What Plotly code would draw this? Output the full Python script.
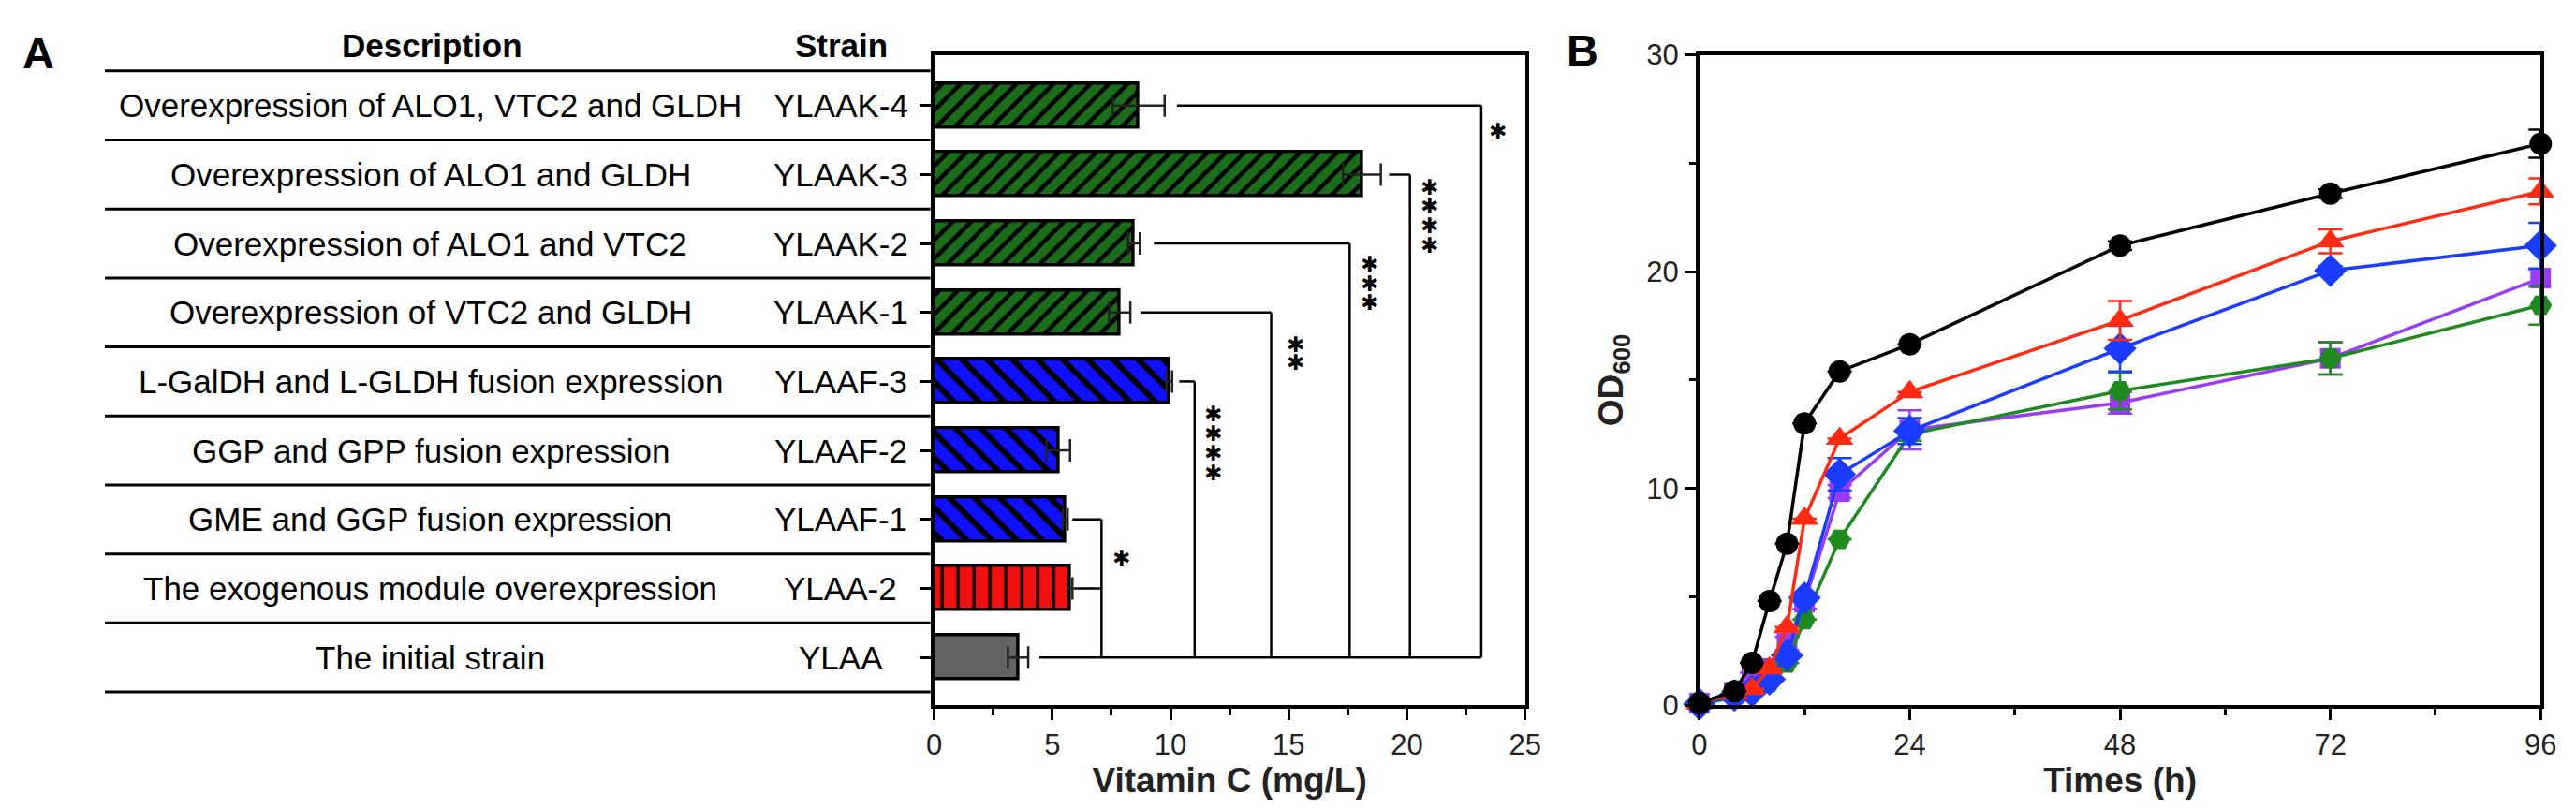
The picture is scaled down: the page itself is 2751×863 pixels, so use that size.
import plotly.graph_objects as go

# ---------------- Panel A data ----------------
descriptions = [
    "Overexpression of ALO1, VTC2 and GLDH",
    "Overexpression of ALO1 and GLDH",
    "Overexpression of ALO1 and VTC2",
    "Overexpression of VTC2 and GLDH",
    "L-GalDH and L-GLDH fusion expression",
    "GGP and GPP fusion expression",
    "GME and GGP fusion expression",
    "The exogenous module overexpression",
    "The initial strain",
]
strains = ["YLAAK-4", "YLAAK-3", "YLAAK-2", "YLAAK-1", "YLAAF-3",
           "YLAAF-2", "YLAAF-1", "YLAA-2", "YLAA"]
vitamin_c = [8.65, 18.1, 8.45, 7.85, 9.95, 5.25, 5.55, 5.75, 3.55]
vitamin_c_err = [1.1, 0.8, 0.25, 0.45, 0.12, 0.5, 0.1, 0.1, 0.43]

# ---------------- Panel B data ----------------
times = [0, 4, 6, 8, 10, 12, 16, 24, 48, 72, 96]
od_black = [0.1, 0.65, 1.95, 4.8, 7.45, 13.0, 15.4, 16.65, 21.2, 23.6, 25.9]
err_black = [0, 0, 0, 0, 0, 0, 0, 0, 0.2, 0.2, 0.65]
od_red = [0.1, 0.55, 0.75, 1.7, 3.6, 8.6, 12.3, 14.45, 17.75, 21.4, 23.7]
err_red = [0, 0, 0, 0, 0, 0, 0, 0, 0.9, 0.55, 0.6]
od_blue = [0.05, 0.45, 0.65, 1.2, 2.3, 4.95, 10.65, 12.65, 16.45, 20.05, 21.2]
err_blue = [0, 0, 0, 0, 0, 0, 0.75, 0.6, 1.05, 0.2, 1.05]
od_purple = [0.1, 0.6, 1.5, 1.7, 2.85, 4.75, 9.85, 12.7, 13.95, 16.0, 19.7]
err_purple = [0, 0, 0, 0, 0.3, 0.3, 0.3, 0.9, 0.5, 0.75, 0.4]
od_green = [0.05, 0.35, 0.6, 1.05, 1.95, 3.95, 7.65, 12.5, 14.5, 16.0, 18.45]
err_green = [0, 0, 0, 0, 0, 0, 0, 0.3, 0.85, 0.75, 0.9]

# ---------------- styles ----------------
FONT = "Liberation Sans, Arial, sans-serif"
# (row indices, fill colour, pattern shape, pattern size, solidity)
bar_groups = [
    ([0, 1, 2, 3], "#1a6e1a", "/", 14, 0.32),
    ([4, 5, 6], "#1010ff", "\\", 19, 0.32),
    ([7], "#f01010", "|", 17, 0.2),
    ([8], "#636363", "", 14, 0.3),
]

W, H = 2751, 863
def px(xp):
    return xp / W
def py(yp):
    return 1 - yp / H

# plot area pixels
A_X0, A_X1 = 990, 1627
B_X0, B_X1 = 1815, 2722
P_Y0, P_Y1 = 35, 759
ROW0, ROWH = 91.4, 76.8
y_top = (P_Y0 - ROW0) / ROWH
y_bot = (P_Y1 - ROW0) / ROWH

fig = go.Figure()
rows = list(range(len(strains)))

for idx, col, shp, psz, sol in bar_groups:
    fig.add_trace(go.Bar(
        x=[vitamin_c[i] for i in idx], y=[rows[i] for i in idx], orientation="h", width=0.64,
        marker=dict(color=col, line=dict(color="black", width=3.5),
                    pattern=dict(shape=shp, fgcolor="black", bgcolor=col, fgopacity=1,
                                 size=psz, solidity=sol, fillmode="overlay")),
        error_x=dict(type="data", array=[vitamin_c_err[i] for i in idx], color="#222222",
                     thickness=2.5, width=12),
        xaxis="x", yaxis="y", showlegend=False, name=" / ".join(strains[i] for i in idx),
    ))

series = [
    ("purple", od_purple, err_purple, "#9b3cf5", "square", 22),
    ("green", od_green, err_green, "#1f8a1f", "hexagon2", 24),
    ("blue", od_blue, err_blue, "#1a3cff", "diamond", 27),
    ("red", od_red, err_red, "#ff2a10", "triangle-up", 26),
    ("black", od_black, err_black, "#000000", "circle", 24),
]
for name, ys, es, col, sym, sz in series:
    fig.add_trace(go.Scatter(
        x=times, y=ys, mode="lines+markers", name=name,
        line=dict(color=col, width=3.5),
        marker=dict(symbol=sym, size=sz, color=col),
        error_y=dict(type="data", array=es, color=col, thickness=2.5, width=13),
        xaxis="x2", yaxis="y2", showlegend=False, cliponaxis=False,
    ))

shapes = []
# table lines
for i in range(len(strains) + 1):
    yv = i - 0.5
    shapes.append(dict(type="line", xref="paper", yref="y", x0=px(96), x1=px(986),
                       y0=yv, y1=yv, line=dict(color="black", width=3)))

# significance brackets (layout decoration)
base_row = 8
base_start, base_end = 4.45, 23.15
shapes.append(dict(type="line", xref="x", yref="y", x0=base_start, x1=base_end,
                   y0=base_row, y1=base_row, line=dict(color="black", width=2.5)))
brackets = [
    # (rows, start x list, vertical x, star x, star y list)
    ([6, 7], [5.85, 5.9], 7.08, 7.9, [6.56]),
    ([4], [10.37], 11.02, 11.8, [4.47, 4.76, 5.04, 5.32]),
    ([3], [8.74], 14.26, 15.3, [3.46, 3.72]),
    ([2], [9.3], 17.58, 18.42, [2.3, 2.58, 2.86]),
    ([1], [19.25], 20.13, 20.96, [1.18, 1.46, 1.74, 2.02]),
    ([0], [10.27], 23.15, 23.86, [0.37]),
]
annotations = []
for brows, starts, xv, sx, sys_ in brackets:
    for r, s in zip(brows, starts):
        shapes.append(dict(type="line", xref="x", yref="y", x0=s, x1=xv, y0=r, y1=r,
                           line=dict(color="black", width=2.5)))
    shapes.append(dict(type="line", xref="x", yref="y", x0=xv, x1=xv, y0=min(brows), y1=base_row,
                       line=dict(color="black", width=2.5)))
    for syv in sys_:
        annotations.append(dict(x=sx, y=syv, xref="x", yref="y", text="✱", showarrow=False,
                                xanchor="center", yanchor="middle",
                                font=dict(family="DejaVu Sans", size=23, color="black")))

# table text
for i, (d, s) in enumerate(zip(descriptions, strains)):
    annotations.append(dict(x=px(447), y=i, xref="paper", yref="y", text=d, showarrow=False,
                            xanchor="center", yanchor="middle",
                            font=dict(family=FONT, size=35, color="black")))
    annotations.append(dict(x=px(889), y=i, xref="paper", yref="y", text=s, showarrow=False,
                            xanchor="center", yanchor="middle",
                            font=dict(family=FONT, size=35, color="black")))
annotations.append(dict(x=px(449), y=py(24), xref="paper", yref="paper", text="<b>Description</b>",
                        showarrow=False, xanchor="center", yanchor="middle",
                        font=dict(family=FONT, size=35, color="black")))
annotations.append(dict(x=px(890), y=py(24), xref="paper", yref="paper", text="<b>Strain</b>",
                        showarrow=False, xanchor="center", yanchor="middle",
                        font=dict(family=FONT, size=35, color="black")))
annotations.append(dict(x=px(24), y=py(33), xref="paper", yref="paper", text="<b>A</b>",
                        showarrow=False, xanchor="center", yanchor="middle",
                        font=dict(family=FONT, size=47, color="black")))
annotations.append(dict(x=px(1689), y=py(30), xref="paper", yref="paper", text="<b>B</b>",
                        showarrow=False, xanchor="center", yanchor="middle",
                        font=dict(family=FONT, size=47, color="black")))

axis_common = dict(showline=True, linewidth=4, linecolor="black", mirror=True,
                   showgrid=False, zeroline=False, ticks="outside", tickwidth=3,
                   tickcolor="black", ticklen=12,
                   tickfont=dict(family=FONT, size=31, color="#222222"))

fig.update_layout(
    width=W, height=H, autosize=False,
    margin=dict(l=0, r=0, t=0, b=0),
    paper_bgcolor="white", plot_bgcolor="white",
    barmode="overlay", bargap=0,
    xaxis=dict(domain=[px(A_X0), px(A_X1)], range=[0, 25], tickvals=[0, 5, 10, 15, 20, 25],
               minor=dict(ticks="outside", dtick=2.5, ticklen=7, tickwidth=3, tickcolor="black"),
               title=dict(text="<b>Vitamin C (mg/L)</b>", font=dict(family=FONT, size=37, color="#222222"),
                          standoff=6),
               anchor="y", **axis_common),
    yaxis=dict(domain=[py(P_Y1), py(P_Y0)], range=[y_bot, y_top], tickvals=rows,
               showticklabels=False, anchor="x", **axis_common),
    xaxis2=dict(domain=[px(B_X0), px(B_X1)], range=[0, 96], tickvals=[0, 24, 48, 72, 96],
                minor=dict(ticks="outside", dtick=12, ticklen=7, tickwidth=3, tickcolor="black"),
                title=dict(text="<b>Times (h)</b>", font=dict(family=FONT, size=37, color="#222222"),
                           standoff=6),
                anchor="y2", **axis_common),
    yaxis2=dict(domain=[py(P_Y1), py(P_Y0)], range=[0, 30], tickvals=[0, 10, 20, 30],
                minor=dict(ticks="outside", dtick=5, ticklen=7, tickwidth=3, tickcolor="black"),
                title=dict(text="<b>OD<sub>600</sub></b>", font=dict(family=FONT, size=37, color="#222222"),
                           standoff=14),
                anchor="x2", **axis_common),
    shapes=shapes,
    annotations=annotations,
)

fig.write_html("out.html")
